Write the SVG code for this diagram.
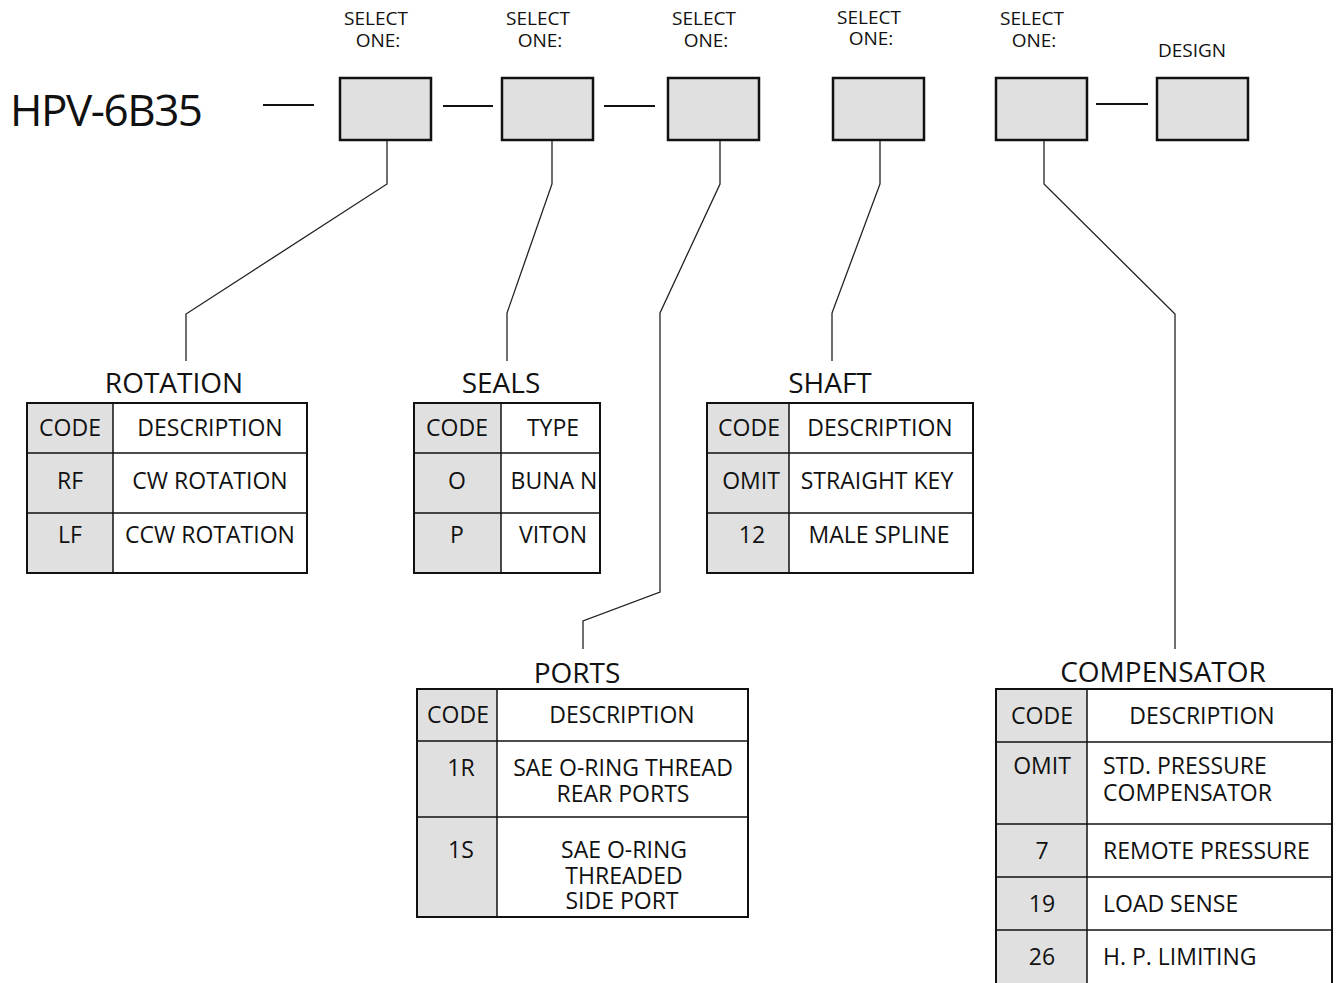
<svg xmlns="http://www.w3.org/2000/svg" width="1336" height="983" viewBox="0 0 1336 983">
<style>
text{font-family:"Open Sans","Noto Sans",sans-serif;fill:#111}
.sel{font-size:19px;text-anchor:middle}
.box{fill:#e0e0e0;stroke:#111;stroke-width:2.5}
.dash{stroke:#111;stroke-width:2}
.conn{fill:none;stroke:#222;stroke-width:1.3}
.title{font-size:28px;text-anchor:middle}
.t{font-size:23px;text-anchor:middle}
.tl{font-size:23px}
.bg{fill:#fff}
.code{fill:#e0e0e0}
.rule{stroke:#111;stroke-width:1.5}
.frame{fill:none;stroke:#111;stroke-width:2}
</style>
<rect width="1336" height="983" fill="#fff"/>

<g id="model">
<text x="10" y="126" font-size="44" textLength="193">HPV-6B35</text>
</g>

<g id="dashes">
<line class="dash" x1="263" y1="105" x2="314" y2="105"/>
<line class="dash" x1="443" y1="106" x2="493" y2="106"/>
<line class="dash" x1="604" y1="106" x2="655" y2="106"/>
<line class="dash" x1="1096" y1="104" x2="1148" y2="104"/>
</g>

<g id="box1">
<text class="sel" x="376" y="25">SELECT</text><text class="sel" x="378" y="47">ONE:</text>
<rect class="box" x="340" y="78" width="91" height="62"/>
</g>
<g id="box2">
<text class="sel" x="538" y="25">SELECT</text><text class="sel" x="540" y="47">ONE:</text>
<rect class="box" x="502" y="78" width="91" height="62"/>
</g>
<g id="box3">
<text class="sel" x="704" y="25">SELECT</text><text class="sel" x="706" y="47">ONE:</text>
<rect class="box" x="668" y="78" width="91" height="62"/>
</g>
<g id="box4">
<text class="sel" x="869" y="24">SELECT</text><text class="sel" x="871" y="45">ONE:</text>
<rect class="box" x="833" y="78" width="91" height="62"/>
</g>
<g id="box5">
<text class="sel" x="1032" y="25">SELECT</text><text class="sel" x="1034" y="47">ONE:</text>
<rect class="box" x="996" y="78" width="91" height="62"/>
</g>
<g id="box6">
<text class="sel" x="1192" y="57">DESIGN</text>
<rect class="box" x="1157" y="78" width="91" height="62"/>
</g>

<g id="connectors">
<polyline class="conn" points="387,141 387,184 186,314 186,361"/>
<polyline class="conn" points="552,141 552,184 507,313 507,361"/>
<polyline class="conn" points="720,141 720,184 660,313 660,592 583,621 583,649"/>
<polyline class="conn" points="880,141 880,184 832,313 832,361"/>
<polyline class="conn" points="1044,141 1044,184 1175,314 1175,649"/>
</g>

<g id="rotation">
<text class="title" x="174" y="393">ROTATION</text>
<rect class="bg" x="27" y="403" width="280" height="170"/>
<rect class="code" x="27" y="403" width="86" height="170"/>
<line class="rule" x1="113" y1="403" x2="113" y2="573"/>
<line class="rule" x1="27" y1="453" x2="307" y2="453"/>
<line class="rule" x1="27" y1="513" x2="307" y2="513"/>
<rect class="frame" x="27" y="403" width="280" height="170"/>
<text class="t" x="70" y="436">CODE</text><text class="t" x="210" y="436">DESCRIPTION</text>
<text class="t" x="70" y="489">RF</text><text class="t" x="210" y="489">CW ROTATION</text>
<text class="t" x="70" y="543">LF</text><text class="t" x="210" y="543">CCW ROTATION</text>
</g>

<g id="seals">
<text class="title" x="501" y="393">SEALS</text>
<rect class="bg" x="414" y="403" width="186" height="170"/>
<rect class="code" x="414" y="403" width="87" height="170"/>
<line class="rule" x1="501" y1="403" x2="501" y2="573"/>
<line class="rule" x1="414" y1="453" x2="600" y2="453"/>
<line class="rule" x1="414" y1="513" x2="600" y2="513"/>
<rect class="frame" x="414" y="403" width="186" height="170"/>
<text class="t" x="457" y="436">CODE</text><text class="t" x="553" y="436">TYPE</text>
<text class="t" x="457" y="489">O</text><text class="t" x="554" y="489">BUNA N</text>
<text class="t" x="457" y="543">P</text><text class="t" x="553" y="543">VITON</text>
</g>

<g id="shaft">
<text class="title" x="830" y="393">SHAFT</text>
<rect class="bg" x="707" y="403" width="266" height="170"/>
<rect class="code" x="707" y="403" width="82" height="170"/>
<line class="rule" x1="789" y1="403" x2="789" y2="573"/>
<line class="rule" x1="707" y1="453" x2="973" y2="453"/>
<line class="rule" x1="707" y1="513" x2="973" y2="513"/>
<rect class="frame" x="707" y="403" width="266" height="170"/>
<text class="t" x="749" y="436">CODE</text><text class="t" x="880" y="436">DESCRIPTION</text>
<text class="t" x="751" y="489">OMIT</text><text class="t" x="877" y="489">STRAIGHT KEY</text>
<text class="t" x="752" y="543">12</text><text class="t" x="879" y="543">MALE SPLINE</text>
</g>

<g id="ports">
<text class="title" x="577" y="683">PORTS</text>
<rect class="bg" x="417" y="689" width="331" height="228"/>
<rect class="code" x="417" y="689" width="80" height="228"/>
<line class="rule" x1="497" y1="689" x2="497" y2="917"/>
<line class="rule" x1="417" y1="741" x2="748" y2="741"/>
<line class="rule" x1="417" y1="817" x2="748" y2="817"/>
<rect class="frame" x="417" y="689" width="331" height="228"/>
<text class="t" x="458" y="723">CODE</text><text class="t" x="622" y="723">DESCRIPTION</text>
<text class="t" x="461" y="776">1R</text><text class="t" x="623" y="776">SAE O-RING THREAD</text>
<text class="t" x="623" y="802">REAR PORTS</text>
<text class="t" x="461" y="858">1S</text><text class="t" x="624" y="858">SAE O-RING</text>
<text class="t" x="624" y="884">THREADED</text>
<text class="t" x="622" y="909">SIDE PORT</text>
</g>

<g id="compensator">
<text class="title" x="1163" y="682">COMPENSATOR</text>
<rect class="bg" x="996" y="689" width="336" height="302"/>
<rect class="code" x="996" y="689" width="91" height="302"/>
<line class="rule" x1="1087" y1="689" x2="1087" y2="991"/>
<line class="rule" x1="996" y1="742" x2="1332" y2="742"/>
<line class="rule" x1="996" y1="824" x2="1332" y2="824"/>
<line class="rule" x1="996" y1="877" x2="1332" y2="877"/>
<line class="rule" x1="996" y1="930" x2="1332" y2="930"/>
<rect class="frame" x="996" y="689" width="336" height="302"/>
<text class="t" x="1042" y="724">CODE</text><text class="t" x="1202" y="724">DESCRIPTION</text>
<text class="t" x="1042" y="774">OMIT</text><text class="tl" x="1103" y="774">STD. PRESSURE</text>
<text class="tl" x="1103" y="801">COMPENSATOR</text>
<text class="t" x="1042" y="859">7</text><text class="tl" x="1103" y="859">REMOTE PRESSURE</text>
<text class="t" x="1042" y="912">19</text><text class="tl" x="1103" y="912">LOAD SENSE</text>
<text class="t" x="1042" y="965">26</text><text class="tl" x="1103" y="965">H. P. LIMITING</text>
</g>
</svg>
